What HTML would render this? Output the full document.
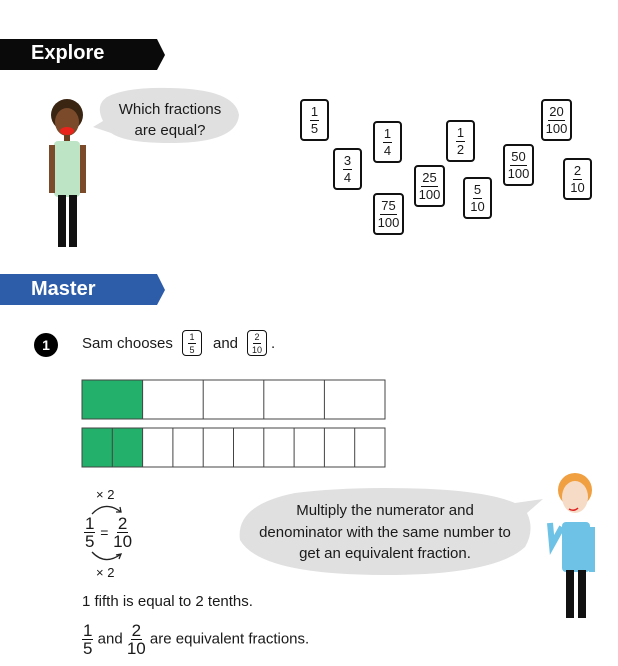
<!DOCTYPE html>
<html><head><meta charset="utf-8"><style>
body{margin:0;width:618px;height:666px;background:#fff;position:relative;overflow:hidden;font-family:"Liberation Sans",sans-serif;color:#1a1a1a}
.a{position:absolute}
.card{position:absolute;width:25px;height:38px;border:2px solid #111;border-radius:4px;background:#fff;display:flex;flex-direction:column;align-items:center;justify-content:center;font-size:13px;line-height:14px}
.card .n{border-bottom:1.5px solid #111;padding:0 1px 1px}
.card .d{padding-top:1px}
.w{width:27px}
.fr{display:inline-flex;flex-direction:column;align-items:center;vertical-align:middle;line-height:17px}
.fr .n{border-bottom:1.5px solid #111;padding:0 1px}
</style></head><body>
<!-- Explore banner -->
<svg class="a" style="left:0;top:39px" width="170" height="32"><polygon points="0,0 157,0 165,16 157,31 0,31" fill="#0a0a0a"/></svg>
<div class="a" style="left:31px;top:42px;color:#fff;font-size:20px;font-weight:bold">Explore</div>
<!-- Master banner -->
<svg class="a" style="left:0;top:274px" width="170" height="32"><polygon points="0,0 157,0 165,16 157,31 0,31" fill="#2d5ca9"/></svg>
<div class="a" style="left:31px;top:278px;color:#fff;font-size:20px;font-weight:bold">Master</div>

<!-- bubble 1 -->
<svg class="a" style="left:85px;top:85px" width="160" height="65"><path d="M22,12 Q40,2 85,3 Q150,4 154,30 Q152,58 85,58 Q40,58 26,48 L8,42 L18,36 Q10,20 22,12Z" fill="#e0e0e0"/></svg>
<div class="a" style="left:100px;top:99px;width:140px;text-align:center;font-size:15px;line-height:21px">Which fractions<br>are equal?</div>

<!-- girl/boy 1 -->
<svg class="a" style="left:40px;top:95px" width="60" height="160">
<circle cx="27" cy="20" r="16" fill="#3a2412"/>
<ellipse cx="27" cy="27" rx="12" ry="14" fill="#7a4a2a"/>
<ellipse cx="27" cy="36" rx="7" ry="4" fill="#e8241c"/>
<rect x="24" y="40" width="6" height="8" fill="#6a3f22"/>
<rect x="14" y="46" width="26" height="56" rx="4" fill="#bde5c5"/>
<rect x="9" y="50" width="6" height="48" fill="#7a4a2a"/><rect x="40" y="50" width="6" height="48" fill="#7a4a2a"/>
<rect x="18" y="100" width="8" height="52" fill="#111"/><rect x="29" y="100" width="8" height="52" fill="#111"/>
</svg>

<!-- cards -->
<div class="card" style="left:300px;top:99px"><span class="n">1</span><span class="d">5</span></div>
<div class="card" style="left:333px;top:148px"><span class="n">3</span><span class="d">4</span></div>
<div class="card" style="left:373px;top:121px"><span class="n">1</span><span class="d">4</span></div>
<div class="card w" style="left:373px;top:193px"><span class="n">75</span><span class="d">100</span></div>
<div class="card w" style="left:414px;top:165px"><span class="n">25</span><span class="d">100</span></div>
<div class="card" style="left:446px;top:120px"><span class="n">1</span><span class="d">2</span></div>
<div class="card" style="left:463px;top:177px"><span class="n">5</span><span class="d">10</span></div>
<div class="card w" style="left:503px;top:144px"><span class="n">50</span><span class="d">100</span></div>
<div class="card w" style="left:541px;top:99px"><span class="n">20</span><span class="d">100</span></div>
<div class="card" style="left:563px;top:158px"><span class="n">2</span><span class="d">10</span></div>

<!-- question 1 -->
<div class="a" style="left:34px;top:333px;width:24px;height:24px;border-radius:50%;background:#000;color:#fff;font-weight:bold;font-size:14px;text-align:center;line-height:24px">1</div>
<div class="a" style="left:82px;top:335px;font-size:15px">Sam chooses</div>
<div class="card" style="left:182px;top:330px;width:18px;height:24px;border-width:1.5px;font-size:9px;line-height:10px"><span class="n">1</span><span class="d">5</span></div>
<div class="a" style="left:213px;top:335px;font-size:15px">and</div>
<div class="card" style="left:247px;top:330px;width:18px;height:24px;border-width:1.5px;font-size:9px;line-height:10px"><span class="n">2</span><span class="d">10</span></div>
<div class="a" style="left:271px;top:335px;font-size:15px">.</div>

<!-- bars -->
<svg class="a" style="left:81px;top:379px" width="306" height="90">
<rect x="1" y="1" width="60.6" height="39" fill="#22b06a"/>
<rect x="1" y="49" width="60.6" height="39" fill="#22b06a"/>
<g stroke="#444" stroke-width="1" fill="none">
<rect x="1" y="1" width="303" height="39"/><rect x="1" y="49" width="303" height="39"/>
<path d="M61.6,1V40M122.2,1V40M182.8,1V40M243.4,1V40"/>
<path d="M31.3,49V88M61.6,49V88M91.9,49V88M122.2,49V88M152.5,49V88M182.8,49V88M213.1,49V88M243.4,49V88M273.7,49V88"/>
</g></svg>

<!-- equation -->
<div class="a" style="left:96px;top:487px;font-size:13px">× 2</div>
<div class="a" style="left:96px;top:565px;font-size:13px">× 2</div>
<svg class="a" style="left:85px;top:500px" width="50" height="70" fill="none" stroke="#222" stroke-width="1.3">
<path d="M7,14 Q20,0 36,12"/><path d="M31,12 L36,12 L35,7"/>
<path d="M7,52 Q20,66 36,54"/><path d="M31,55 L36,54 L34,59"/>
</svg>
<div class="a" style="left:84px;top:515px;font-size:17px"><span class="fr"><span class="n">1</span><span>5</span></span> <span style="vertical-align:middle;font-size:14px">=</span> <span class="fr"><span class="n">2</span><span>10</span></span></div>

<div class="a" style="left:82px;top:593px;font-size:15px">1 fifth is equal to 2 tenths.</div>
<div class="a" style="left:82px;top:622px;font-size:15px"><span class="fr" style="font-size:17px"><span class="n">1</span><span>5</span></span> and <span class="fr" style="font-size:17px"><span class="n">2</span><span>10</span></span> are equivalent fractions.</div>

<!-- bubble 2 -->
<svg class="a" style="left:235px;top:485px" width="320" height="95"><path d="M150,3 Q245,3 280,18 L308,14 L292,28 Q300,45 290,62 Q260,90 150,90 Q25,90 5,55 Q0,20 60,8 Q100,3 150,3Z" fill="#e0e0e0"/></svg>
<div class="a" style="left:238px;top:500px;width:294px;text-align:center;font-size:15px;line-height:21.5px">Multiply the numerator and<br>denominator with the same number to<br>get an equivalent fraction.</div>

<!-- boy 2 -->
<svg class="a" style="left:540px;top:465px" width="70" height="160">
<circle cx="35" cy="25" r="17" fill="#f0a040"/>
<ellipse cx="35" cy="32" rx="13" ry="16" fill="#f6dcc6"/>
<path d="M29,44 Q34,47 38,43" stroke="#d22" stroke-width="1.5" fill="none"/>
<rect x="22" y="57" width="28" height="50" rx="4" fill="#6ec2e6"/>
<path d="M22,62 L12,80 L10,58" stroke="#6ec2e6" stroke-width="6" fill="none"/>
<rect x="49" y="62" width="6" height="45" fill="#6ec2e6"/>
<rect x="26" y="105" width="8" height="48" fill="#111"/><rect x="38" y="105" width="8" height="48" fill="#111"/>
</svg>
</body></html>
